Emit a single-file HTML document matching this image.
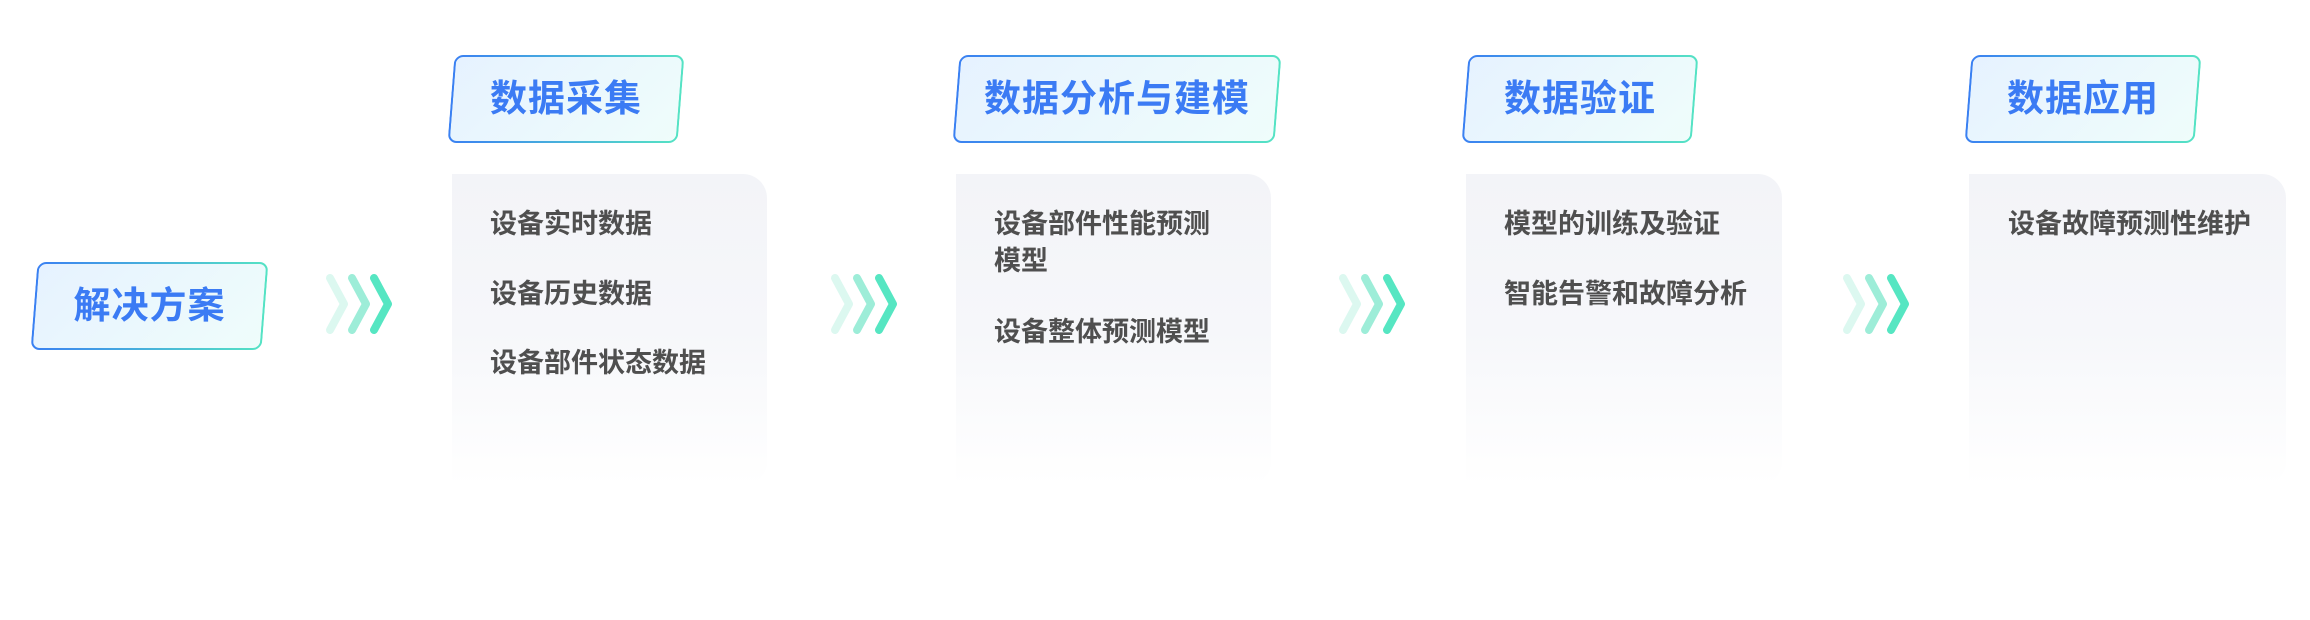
<!DOCTYPE html>
<html><head><meta charset="utf-8"><style>
body{margin:0;width:2310px;height:620px;background:#fff;position:relative;overflow:hidden;font-family:"Liberation Sans","Noto Sans CJK SC",sans-serif}
.hd{position:absolute;height:88px;border:2px solid transparent;border-radius:9px;transform:skewX(-4.5deg);
background:linear-gradient(135deg,#e6f2ff,#effdfb) padding-box,linear-gradient(90deg,#3a80f2,#55e3c4) border-box;box-sizing:border-box}
.ht{position:absolute;height:88px;line-height:88px;text-align:center;color:#3b7bf4;font-weight:bold;font-size:37px;letter-spacing:1px}
.card{position:absolute;top:174px;height:312px;border-radius:0 24px 24px 0;background:linear-gradient(180deg,#f3f4f8 0%,#f6f7fa 50%,#ffffff 100%)}
.it{position:absolute;color:#4f4f4f;font-size:27px;font-weight:bold;line-height:37px}
svg.ch{position:absolute;top:272px}
</style></head><body>
<div class="hd" style="left:34px;top:262px;width:231px"></div><div class="ht" style="left:34px;top:262px;width:231px">解决方案</div>

<svg class="ch" style="left:322px" width="72" height="64"><g fill="none" stroke-width="8" stroke-linecap="round" stroke-linejoin="round"><path d="M8 6 L22 32 L8 58" stroke="#dcf8f0"/><path d="M30 6 L44 32 L30 58" stroke="#9dedd8"/><path d="M52 6 L66 32 L52 58" stroke="#56e6c2"/></g></svg>
<svg class="ch" style="left:827px" width="72" height="64"><g fill="none" stroke-width="8" stroke-linecap="round" stroke-linejoin="round"><path d="M8 6 L22 32 L8 58" stroke="#dcf8f0"/><path d="M30 6 L44 32 L30 58" stroke="#9dedd8"/><path d="M52 6 L66 32 L52 58" stroke="#56e6c2"/></g></svg>
<svg class="ch" style="left:1335px" width="72" height="64"><g fill="none" stroke-width="8" stroke-linecap="round" stroke-linejoin="round"><path d="M8 6 L22 32 L8 58" stroke="#dcf8f0"/><path d="M30 6 L44 32 L30 58" stroke="#9dedd8"/><path d="M52 6 L66 32 L52 58" stroke="#56e6c2"/></g></svg>
<svg class="ch" style="left:1839px" width="72" height="64"><g fill="none" stroke-width="8" stroke-linecap="round" stroke-linejoin="round"><path d="M8 6 L22 32 L8 58" stroke="#dcf8f0"/><path d="M30 6 L44 32 L30 58" stroke="#9dedd8"/><path d="M52 6 L66 32 L52 58" stroke="#56e6c2"/></g></svg>

<div class="hd" style="left:451px;top:55px;width:230px"></div><div class="ht" style="left:451px;top:55px;width:230px">数据采集</div>
<div class="card" style="left:452px;width:315px"></div>
<div class="it" style="left:490px;top:206px">设备实时数据</div>
<div class="it" style="left:490px;top:276px">设备历史数据</div>
<div class="it" style="left:490px;top:345px">设备部件状态数据</div>

<div class="hd" style="left:956px;top:55px;width:322px"></div><div class="ht" style="left:956px;top:55px;width:322px">数据分析与建模</div>
<div class="card" style="left:956px;width:315px"></div>
<div class="it" style="left:994px;top:206px">设备部件性能预测<br>模型</div>
<div class="it" style="left:994px;top:314px">设备整体预测模型</div>

<div class="hd" style="left:1465px;top:55px;width:230px"></div><div class="ht" style="left:1465px;top:55px;width:230px">数据验证</div>
<div class="card" style="left:1466px;width:316px"></div>
<div class="it" style="left:1504px;top:206px">模型的训练及验证</div>
<div class="it" style="left:1504px;top:276px">智能告警和故障分析</div>

<div class="hd" style="left:1968px;top:55px;width:230px"></div><div class="ht" style="left:1968px;top:55px;width:230px">数据应用</div>
<div class="card" style="left:1969px;width:317px"></div>
<div class="it" style="left:2008px;top:206px">设备故障预测性维护</div>
</body></html>
